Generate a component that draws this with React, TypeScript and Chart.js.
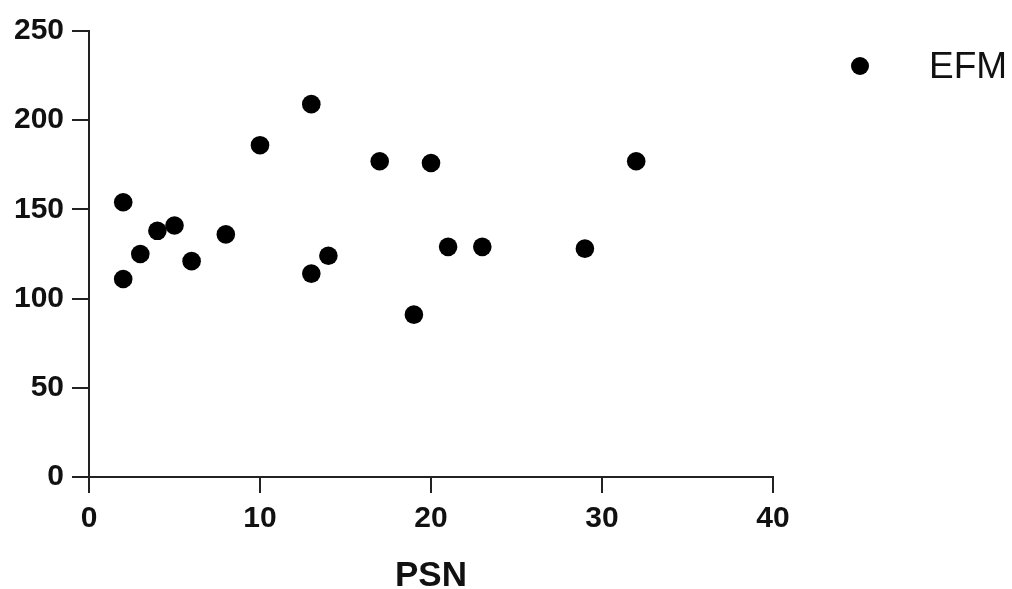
import React, { useEffect, useRef } from "react";
import { Chart, registerables } from "chart.js";

Chart.register(...registerables);

const seriesLabel = "EFM";
const xTitle = "PSN";
const psn = [2, 2, 3, 4, 5, 6, 8, 10, 13, 13, 14, 17, 19, 20, 21, 23, 29, 32];
const efm = [154, 111, 125, 138, 141, 121, 136, 186, 209, 114, 124, 177, 91, 176, 129, 129, 128, 177];
const xTicks = [0, 10, 20, 30, 40];
const yTicks = [0, 50, 100, 150, 200, 250];

const W = 1012;
const H = 589;

const legendPlugin = {
  id: "customLegend",
  afterDraw(chart: any) {
    const ctx = chart.ctx;
    const ds = chart.data.datasets[0];
    ctx.save();
    ctx.fillStyle = "#000";
    ctx.beginPath();
    ctx.arc(860, 66, 9, 0, Math.PI * 2);
    ctx.fill();
    ctx.fillStyle = "#111";
    ctx.font = "37px 'Liberation Sans', Arial, sans-serif";
    ctx.textAlign = "left";
    ctx.textBaseline = "middle";
    ctx.fillText(ds.label, 929, 68);
    ctx.restore();
  },
};

export default function App() {
  const ref = useRef<HTMLCanvasElement | null>(null);
  useEffect(() => {
    if (!ref.current) return;
    const points = psn.map((x, i) => ({ x, y: efm[i] }));
    const tickFont = { family: "'Liberation Sans', Arial, sans-serif", size: 30, weight: "bold" as const };
    const chart = new Chart(ref.current, {
      type: "scatter",
      data: {
        datasets: [
          {
            label: seriesLabel,
            data: points,
            backgroundColor: "#000",
            borderColor: "#000",
            pointRadius: 9.3,
            pointHoverRadius: 9.3,
            borderWidth: 0,
          },
        ],
      },
      options: {
        responsive: false,
        animation: false,
        events: [],
        layout: { padding: { left: 0, top: 31, right: W - 773, bottom: 0 } },
        plugins: { legend: { display: false }, tooltip: { enabled: false } },
        scales: {
          x: {
            type: "linear",
            min: 0,
            max: 40,
            afterFit(scale: any) {
              scale.height = H - 477;
            },
            afterBuildTicks(scale: any) {
              scale.ticks = xTicks.map((v) => ({ value: v }));
            },
            ticks: { color: "#111", font: tickFont, padding: 8, maxRotation: 0 },
            grid: {
              drawOnChartArea: false,
              drawTicks: true,
              tickLength: 16,
              color: "#222",
              lineWidth: 2,
            },
            border: { display: true, color: "#222", width: 2 },
            title: {
              display: true,
              text: xTitle,
              color: "#111",
              font: { family: "'Liberation Sans', Arial, sans-serif", size: 35, weight: "bold" as const, lineHeight: 1.2 },
              padding: { top: 0, bottom: -8 },
            },
          },
          y: {
            type: "linear",
            min: 0,
            max: 250,
            afterFit(scale: any) {
              scale.width = 89;
            },
            afterBuildTicks(scale: any) {
              scale.ticks = yTicks.map((v) => ({ value: v }));
            },
            ticks: { color: "#111", font: tickFont, padding: 8 },
            grid: {
              drawOnChartArea: false,
              drawTicks: true,
              tickLength: 17,
              color: "#222",
              lineWidth: 2,
            },
            border: { display: true, color: "#222", width: 2 },
          },
        },
      },
      plugins: [legendPlugin],
    });
    return () => chart.destroy();
  }, []);
  return (
    <div style={{ position: "fixed", left: 0, top: 0, width: W, height: H, background: "#fff" }}>
      <canvas ref={ref} width={W} height={H} style={{ display: "block" }} />
    </div>
  );
}
